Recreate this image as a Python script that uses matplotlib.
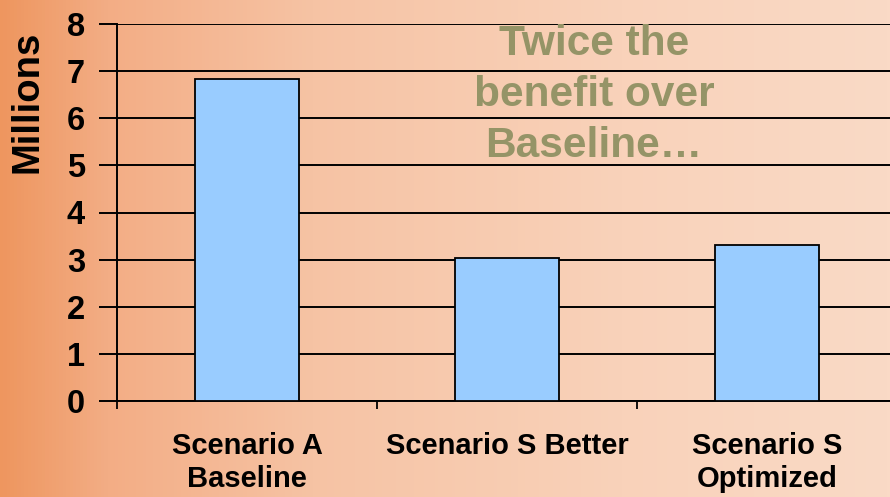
import numpy as np
import matplotlib
matplotlib.use("Agg")
import matplotlib.pyplot as plt
from matplotlib.colors import LinearSegmentedColormap

categories = ["Scenario A\nBaseline", "Scenario S Better", "Scenario S\nOptimized"]
values = [6.83, 3.03, 3.32]
yticks = [0, 1, 2, 3, 4, 5, 6, 7, 8]
annotation = "Twice the\nbenefit over\nBaseline…"

W, H = 890, 497
fig = plt.figure(figsize=(W / 100, H / 100), dpi=100)

# background gradient
bg = fig.add_axes([0, 0, 1, 1])
bg.set_axis_off()
cmap = LinearSegmentedColormap.from_list(
    "bg", [(0.0, "#EE965F"), (0.12, "#F3AD85"), (0.35, "#F6C3A4"), (0.7, "#F9D2BA"), (1.0, "#FADAC6")])
grad = np.linspace(0, 1, 256)[None, :]
bg.imshow(grad, aspect="auto", cmap=cmap, extent=[0, 1, 0, 1])
bg.set_xlim(0, 1); bg.set_ylim(0, 1)

x0, x1 = 117 / W, 897 / W
y0, y1 = 1 - 401 / H, 1 - 24 / H
ax = fig.add_axes([x0, y0, x1 - x0, y1 - y0])
ax.patch.set_alpha(0)

x = np.arange(len(categories))
ax.bar(x, values, width=0.4, color="#99CCFF", edgecolor="black", linewidth=1.3, zorder=3)
ax.set_xlim(-0.5, len(categories) - 0.5)
ax.set_ylim(0, 8)
ax.set_yticks(yticks)
ax.yaxis.grid(True, color="black", linewidth=1.4, zorder=0)
ax.set_axisbelow(True)
for s in ["top", "right"]:
    ax.spines[s].set_visible(False)
ax.spines["left"].set_linewidth(1.4)
ax.spines["bottom"].set_linewidth(1.4)

ax.set_xticks(np.arange(len(categories) + 1) - 0.5, minor=False)
ax.set_xticklabels([])
ax.tick_params(axis="x", direction="out", length=6, width=1.3)
ax.set_xticks(x, minor=True)
ax.set_xticklabels(categories, minor=True,
                   fontdict=dict(family="Liberation Sans", weight="bold", size=21))
ax.tick_params(axis="x", which="minor", length=0, pad=22.5)
for lbl in ax.get_xticklabels(minor=True):
    lbl.set_linespacing(1.2)
ax.tick_params(axis="y", direction="out", length=13, width=1.4, pad=10)
for lbl in ax.get_yticklabels():
    lbl.set_fontfamily("Liberation Sans")
    lbl.set_fontweight("bold")
    lbl.set_fontsize(23.5)

fig.text(27.5 / W, 1 - 102 / H, "Millions", rotation=90, ha="center", va="center",
         family="Liberation Sans", weight="bold", size=27.5)

fig.text(594 / W, 1 - 95 / H, annotation, ha="center", va="center", color="#959467",
         family="Liberation Sans", weight="bold", size=30.5, linespacing=1.34)

fig.savefig("out.png", dpi=100)
